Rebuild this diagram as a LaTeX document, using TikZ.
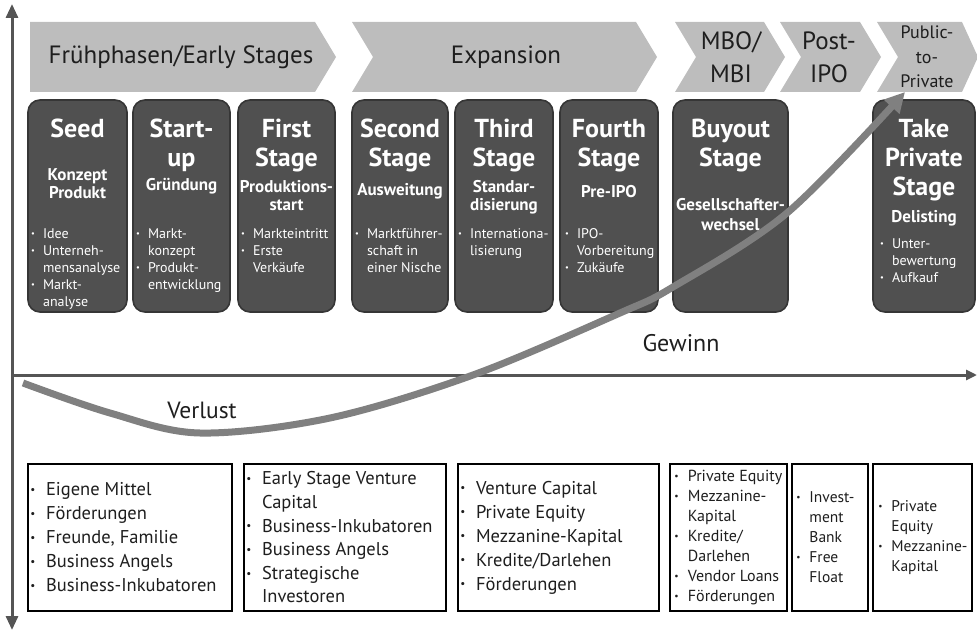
\documentclass[tikz,border=0pt]{standalone}
\usepackage{fontspec}
\setmainfont{PT Sans}
\usetikzlibrary{arrows.meta}

\definecolor{chevgray}{HTML}{BDBDBD}
\definecolor{stagegray}{HTML}{505050}
\definecolor{stageline}{HTML}{363636}
\definecolor{axisgray}{HTML}{555555}
\definecolor{curvegray}{HTML}{808080}
\definecolor{ink}{HTML}{1E1E1E}

% list bullet and the indent of a continued line
\newcommand\bul{\makebox[0.85em][l]{\raisebox{0.12em}{\scalebox{0.6}{\textbullet}}}}
\newcommand\ind{\hspace*{0.85em}}

\begin{document}
\begin{tikzpicture}[x=1pt,y=-1pt,
    chev/.style={fill=chevgray},
    lbl/.style={text=ink,align=center,inner sep=0pt},
    stage/.style={draw=stageline,fill=stagegray,line width=1.6pt,rounded corners=12pt,minimum height=212pt,inner sep=0pt},
    ttl/.style={text=white,align=center,inner sep=0pt,anchor=north,font=\fontsize{26}{29}\selectfont\bfseries},
    sub/.style={text=white,align=center,inner sep=0pt,anchor=north,font=\fontsize{17}{18.5}\selectfont\bfseries},
    lst/.style={text=white,align=left,inner sep=0pt,anchor=north west,font=\fontsize{14}{17}\selectfont},
    fund/.style={draw=black,fill=white,line width=1.8pt,minimum height=147pt,inner sep=0pt},
    fundtxt/.style={text=ink,align=left,inner sep=0pt,anchor=west},
    axis/.style={draw=axisgray,line width=3pt},
    curve/.style={draw=curvegray,line width=7pt}]
    \useasboundingbox (0,0) rectangle (977,631);

    %% phase chevrons
    \fill[chev] (30,22) -- (315,22) -- (336,57) -- (315,92) -- (30,92) -- cycle;
    \foreach \l/\r/\d in {352/636/21,675/764/21,780/860/21,877/962/16}
        \fill[chev] (\l,22) -- (\r,22) -- ++(\d,35) -- ++(-\d,35) -- (\l,92) -- ++(21,-35) -- cycle;
    \node[lbl,font=\fontsize{25}{33}\selectfont] (early) at (181,57) {Frühphasen/Early Stages};
    \node[lbl,font=\fontsize{25}{33}\selectfont] (expansion) at (506,57) {Expansion};
    \node[lbl,font=\fontsize{25}{33}\selectfont] (mbo) at (731,57) {MBO/\\MBI};
    \node[lbl,font=\fontsize{25}{33}\selectfont] (postipo) at (829,57) {Post-\\IPO};
    \node[lbl,font=\fontsize{18}{24.5}\selectfont] (ptp) at (927,57) {Public-\\to-\\Private};

    %% stage boxes
    \node[stage,minimum width=99pt] (seed) at (77.5,206) {};
    \node[stage,minimum width=97pt] (startup) at (181.5,206) {};
    \node[stage,minimum width=97pt] (first) at (286.5,206) {};
    \node[stage,minimum width=96pt] (second) at (400,206) {};
    \node[stage,minimum width=98pt] (third) at (504,206) {};
    \node[stage,minimum width=98pt] (fourth) at (609,206) {};
    \node[stage,minimum width=115pt] (buyout) at (730.5,206) {};
    \node[stage,minimum width=102pt] (takepriv) at (924,206) {};

    %% stage texts
    \node[ttl] (seedT) at (77.5,119) {Seed};
    \node[sub] (seedS) at (77.5,168) {Konzept\\Produkt};
    \node[lst] (seedL) at (31,228) {\bul Idee\\\bul Unterneh-\\\ind mensanalyse\\\bul Markt-\\\ind analyse};

    \node[ttl] (startupT) at (181.5,119) {Start-\\up};
    \node[sub] (startupS) at (181.5,178) {Gründung};
    \node[lst] (startupL) at (136,228) {\bul Markt-\\\ind konzept\\\bul Produkt-\\\ind entwicklung};

    \node[ttl] (firstT) at (286.5,119) {First\\Stage};
    \node[sub] (firstS) at (286.5,180) {Produktions-\\start};
    \node[lst] (firstL) at (241,228) {\bul Markteintritt\\\bul Erste\\\ind Verkäufe};

    \node[ttl] (secondT) at (400,119) {Second\\Stage};
    \node[sub] (secondS) at (400,183) {Ausweitung};
    \node[lst] (secondL) at (355,228) {\bul Marktführer-\\\ind schaft in\\\ind einer Nische};

    \node[ttl] (thirdT) at (504,119) {Third\\Stage};
    \node[sub] (thirdS) at (504,180) {Standar-\\disierung};
    \node[lst] (thirdL) at (458,228) {\bul Internationa-\\\ind lisierung};

    \node[ttl] (fourthT) at (609,119) {Fourth\\Stage};
    \node[sub] (fourthS) at (609,185) {Pre-IPO};
    \node[lst] (fourthL) at (565,228) {\bul IPO-\\\ind Vorbereitung\\\bul Zukäufe};

    \node[ttl] (buyoutT) at (730.5,119) {Buyout\\Stage};
    \node[sub,font=\fontsize{17}{20}\selectfont\bfseries] (buyoutS) at (730.5,198) {Gesellschafter-\\wechsel};

    \node[ttl] (takeprivT) at (924,119) {Take\\Private\\Stage};
    \node[sub] (takeprivS) at (924,210) {Delisting};
    \node[lst] (takeprivL) at (880,238) {\bul Unter-\\\ind bewertung\\\bul Aufkauf};

    %% axes
    \coordinate (ytop) at (12,4);
    \coordinate (ybot) at (12,630);
    \coordinate (orig) at (12,375);
    \coordinate (xend) at (977,375);
    \draw[axis,{Triangle[length=14pt,width=12pt]}-{Triangle[length=14pt,width=12pt]}] (ybot) -- (ytop);
    \draw[axis,-{Triangle[length=11pt,width=10pt]}] (orig) -- (xend);

    %% profit curve
    \draw[curve,-{Triangle[length=20pt,width=20pt]}] plot[smooth,tension=0.55] coordinates
        {(23,383) (110,413) (200,433) (330,418) (473,375) (620,313) (673,287) (787,213) (905,92)};
    \node[lbl,font=\fontsize{24}{24}\selectfont] (gewinn) at (681,343) {Gewinn};
    \node[lbl,font=\fontsize{23.5}{24}\selectfont] (verlust) at (202,410) {Verlust};

    %% financing boxes
    \node[fund,minimum width=204pt] (fundA) at (130,537.5) {};
    \node[fund,minimum width=202pt] (fundB) at (345,537.5) {};
    \node[fund,minimum width=201pt] (fundC) at (558.5,537.5) {};
    \node[fund,minimum width=117pt] (fundD) at (728.5,537.5) {};
    \node[fund,minimum width=76pt] (fundE) at (830,537.5) {};
    \node[fund,minimum width=99pt] (fundF) at (922.5,537.5) {};

    \node[fundtxt,font=\fontsize{18.5}{24}\selectfont] (fundAtxt) at ([xshift=3pt]fundA.west)
        {\bul Eigene Mittel\\\bul Förderungen\\\bul Freunde, Familie\\\bul Business Angels\\\bul Business-Inkubatoren};
    \node[fundtxt,font=\fontsize{18.5}{23.6}\selectfont] (fundBtxt) at ([xshift=3pt]fundB.west)
        {\bul Early Stage Venture\\\ind Capital\\\bul Business-Inkubatoren\\\bul Business Angels\\\bul Strategische\\\ind Investoren};
    \node[fundtxt,font=\fontsize{18.5}{24}\selectfont] (fundCtxt) at ([xshift=3pt]fundC.west)
        {\bul Venture Capital\\\bul Private Equity\\\bul Mezzanine-Kapital\\\bul Kredite/Darlehen\\\bul Förderungen};
    \node[fundtxt,font=\fontsize{16}{20}\selectfont] (fundDtxt) at ([xshift=5pt]fundD.west)
        {\bul Private Equity\\\bul Mezzanine-\\\ind Kapital\\\bul Kredite/\\\ind Darlehen\\\bul Vendor Loans\\\bul Förderungen};
    \node[fundtxt,font=\fontsize{15.5}{20}\selectfont] (fundEtxt) at ([xshift=5pt]fundE.west)
        {\bul Invest-\\\ind ment\\\ind Bank\\\bul Free\\\ind Float};
    \node[fundtxt,font=\fontsize{15.5}{20}\selectfont] (fundFtxt) at ([xshift=6pt]fundF.west)
        {\bul Private\\\ind Equity\\\bul Mezzanine-\\\ind Kapital};
\end{tikzpicture}
\end{document}
